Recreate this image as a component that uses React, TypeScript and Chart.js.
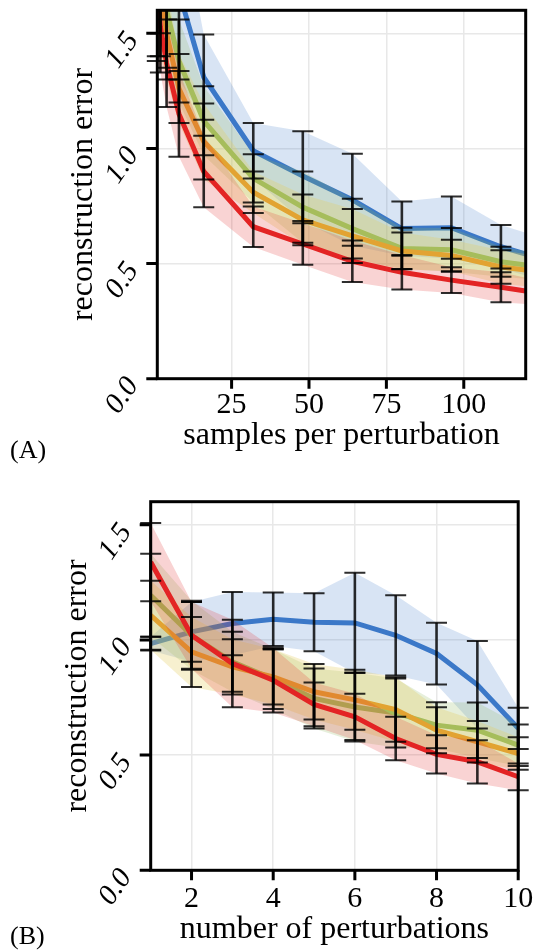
import React, { useEffect, useRef } from "react";
import { Chart, registerables } from "chart.js";

Chart.register(...registerables);

// ---------- Panel A: samples per perturbation ----------
const A_X = [1, 2, 4, 8, 16, 32, 48, 64, 80, 96, 112, 120];
const A_HAS_BAR = [1, 1, 1, 1, 1, 1, 1, 1, 1, 1, 1, 0];
const A_BLUE = [2.3, 2.1, 1.92, 1.68, 1.31, 0.99, 0.88, 0.777, 0.652, 0.656, 0.573, 0.541];
const A_BLUE_ERR = [0.35, 0.35, 0.3, 0.38, 0.185, 0.12, 0.195, 0.2, 0.118, 0.135, 0.094, 0.093];
const A_GREEN = [2.0, 1.8, 1.6, 1.38, 1.12, 0.87, 0.745, 0.652, 0.566, 0.56, 0.508, 0.494];
const A_GREEN_ERR = [0.3, 0.3, 0.25, 0.18, 0.15, 0.105, 0.155, 0.13, 0.09, 0.095, 0.065, 0.06];
const A_ORANGE = [1.85, 1.7, 1.5, 1.26, 1.03, 0.81, 0.69, 0.62, 0.555, 0.535, 0.485, 0.472];
const A_ORANGE_ERR = [0.45, 0.3, 0.2, 0.15, 0.165, 0.09, 0.11, 0.117, 0.08, 0.068, 0.073, 0.07];
const A_RED = [1.68, 1.53, 1.37, 1.15, 0.9, 0.66, 0.585, 0.51, 0.462, 0.428, 0.397, 0.381];
const A_RED_ERR = [0.3, 0.2, 0.19, 0.186, 0.155, 0.088, 0.09, 0.09, 0.075, 0.056, 0.065, 0.057];
const A_XTICKS = [25, 50, 75, 100];
const A_XLABELS = ["25", "50", "75", "100"];

// ---------- Panel B: number of perturbations ----------
const B_X = [1, 2, 3, 4, 5, 6, 7, 8, 9, 10];
const B_HAS_BAR = [1, 1, 1, 1, 1, 1, 1, 1, 1, 1];
const B_BLUE = [0.984, 1.035, 1.071, 1.09, 1.077, 1.074, 1.02, 0.941, 0.805, 0.616];
const B_BLUE_ERR = [0.03, 0.13, 0.137, 0.116, 0.126, 0.218, 0.174, 0.134, 0.19, 0.09];
const B_GREEN = [1.194, 1.02, 0.905, 0.83, 0.746, 0.709, 0.683, 0.63, 0.608, 0.543];
const B_GREEN_ERR = [0.18, 0.15, 0.13, 0.13, 0.13, 0.15, 0.15, 0.1, 0.12, 0.09];
const B_ORANGE = [1.107, 0.948, 0.883, 0.84, 0.775, 0.74, 0.698, 0.608, 0.558, 0.507];
const B_ORANGE_ERR = [0.15, 0.152, 0.12, 0.12, 0.12, 0.13, 0.14, 0.1, 0.09, 0.07];
const B_RED = [1.338, 1.02, 0.898, 0.825, 0.72, 0.666, 0.572, 0.503, 0.471, 0.406];
const B_RED_ERR = [0.17, 0.145, 0.19, 0.14, 0.095, 0.1, 0.094, 0.083, 0.094, 0.058];
const B_XTICKS = [2, 4, 6, 8, 10];
const B_XLABELS = ["2", "4", "6", "8", "10"];

// ---------- shared ----------
const Y_TICKS = [0, 0.5, 1.0, 1.5];
const Y_LABELS = ["0.0", "0.5", "1.0", "1.5"];
const Y_TITLE = "reconstruction error";

const BLUE = { line: "#3b78c8", band: "rgba(59,120,200,0.2)" };
const GREEN = { line: "#8bb65a", band: "rgba(139,182,90,0.22)" };
const ORANGE = { line: "#e2a332", band: "rgba(228,205,95,0.3)" };
const RED = { line: "#e32424", band: "rgba(227,36,36,0.2)" };

type Series = { mean: number[]; err: number[]; line: string; band: string };
type Panel = {
  x: number[];
  bar: number[];
  series: Series[];
  xMin: number;
  xMax: number;
  xTicks: number[];
  xLabels: string[];
  xTitle: string;
  tag: string;
  tickDy: number;
  titleDy: number;
  tagDy: number;
  pad: { left: number; right: number; top: number; bottom: number };
};

const PANEL_A: Panel = {
  x: A_X,
  bar: A_HAS_BAR,
  series: [
    { mean: A_BLUE, err: A_BLUE_ERR, ...BLUE },
    { mean: A_GREEN, err: A_GREEN_ERR, ...GREEN },
    { mean: A_ORANGE, err: A_ORANGE_ERR, ...ORANGE },
    { mean: A_RED, err: A_RED_ERR, ...RED },
  ],
  xMin: 1,
  xMax: 120,
  xTicks: A_XTICKS,
  xLabels: A_XLABELS,
  xTitle: "samples per perturbation",
  tag: "(A)",
  tickDy: 34.5,
  titleDy: 65.5,
  tagDy: 79,
  pad: { left: 157.3, right: 11.3, top: 10.3, bottom: 97.3 },
};

const PANEL_B: Panel = {
  x: B_X,
  bar: B_HAS_BAR,
  series: [
    { mean: B_BLUE, err: B_BLUE_ERR, ...BLUE },
    { mean: B_GREEN, err: B_GREEN_ERR, ...GREEN },
    { mean: B_ORANGE, err: B_ORANGE_ERR, ...ORANGE },
    { mean: B_RED, err: B_RED_ERR, ...RED },
  ],
  xMin: 1,
  xMax: 10,
  xTicks: B_XTICKS,
  xLabels: B_XLABELS,
  xTitle: "number of perturbations",
  tag: "(B)",
  tickDy: 37,
  titleDy: 68,
  tagDy: 74,
  pad: { left: 150.7, right: 18.8, top: 25.7, bottom: 81.7 },
};

const SERIF = "'Liberation Serif', 'Times New Roman', serif";

function buildConfig(p: Panel): any {
  const datasets: any[] = [];
  const n = p.series.length;
  p.series.forEach((s, k) => {
    const bandOrder = (n - k) * 2;
    const lineOrder = bandOrder - 1;
    datasets.push({
      data: p.x.map((x, i) => ({ x, y: s.mean[i] - s.err[i] })),
      borderWidth: 0,
      pointRadius: 0,
      fill: false,
      order: bandOrder,
      clip: 0,
    });
    datasets.push({
      data: p.x.map((x, i) => ({ x, y: s.mean[i] + s.err[i] })),
      borderWidth: 0,
      pointRadius: 0,
      fill: "-1",
      backgroundColor: s.band,
      order: bandOrder,
      clip: 0,
    });
    datasets.push({
      data: p.x.map((x, i) => ({ x, y: s.mean[i] })),
      borderColor: s.line,
      borderWidth: 5,
      pointRadius: 0,
      fill: false,
      tension: 0,
      order: lineOrder,
      clip: 0,
    });
  });

  const decor = {
    id: "decor",
    afterDatasetsDraw(chart: any) {
      const { ctx, chartArea: ca, scales } = chart;
      const xs = scales.x;
      const ys = scales.y;
      ctx.save();
      ctx.beginPath();
      ctx.rect(0, ca.top, chart.width, ca.bottom - ca.top);
      ctx.clip();
      ctx.strokeStyle = "rgba(0,0,0,0.82)";
      ctx.lineCap = "butt";
      p.series.forEach((s) => {
        p.x.forEach((xv, i) => {
          if (!p.bar[i]) return;
          const px = xs.getPixelForValue(xv);
          const yh = ys.getPixelForValue(s.mean[i] + s.err[i]);
          const yl = ys.getPixelForValue(s.mean[i] - s.err[i]);
          ctx.lineWidth = 2.6;
          ctx.beginPath();
          ctx.moveTo(px, yh);
          ctx.lineTo(px, yl);
          ctx.stroke();
          ctx.lineWidth = 2;
          ctx.beginPath();
          ctx.moveTo(px - 10.5, yh);
          ctx.lineTo(px + 10.5, yh);
          ctx.moveTo(px - 10.5, yl);
          ctx.lineTo(px + 10.5, yl);
          ctx.stroke();
        });
      });
      ctx.restore();
    },
    afterDraw(chart: any) {
      const { ctx, chartArea: ca, scales } = chart;
      const xs = scales.x;
      const ys = scales.y;
      ctx.save();
      ctx.strokeStyle = "#000";
      ctx.lineWidth = 3;
      ctx.strokeRect(ca.left, ca.top, ca.right - ca.left, ca.bottom - ca.top);
      // tick marks
      ctx.beginPath();
      Y_TICKS.forEach((v) => {
        const py = ys.getPixelForValue(v);
        ctx.moveTo(ca.left - 11, py);
        ctx.lineTo(ca.left, py);
      });
      p.xTicks.forEach((v) => {
        const px = xs.getPixelForValue(v);
        ctx.moveTo(px, ca.bottom);
        ctx.lineTo(px, ca.bottom + 10);
      });
      ctx.stroke();

      ctx.fillStyle = "#000";
      // x tick labels
      ctx.font = `30px ${SERIF}`;
      ctx.textAlign = "center";
      ctx.textBaseline = "alphabetic";
      p.xTicks.forEach((v, i) => {
        ctx.fillText(p.xLabels[i], xs.getPixelForValue(v), ca.bottom + p.tickDy);
      });
      // x title
      ctx.font = `32px ${SERIF}`;
      ctx.fillText(p.xTitle, (ca.left + ca.right) / 2, ca.bottom + p.titleDy);
      // panel tag
      ctx.font = `26px ${SERIF}`;
      ctx.textAlign = "left";
      ctx.fillText(p.tag, 10, ca.bottom + p.tagDy);
      // y title
      ctx.save();
      ctx.translate(ca.left - 65, (ca.top + ca.bottom) / 2);
      ctx.rotate(-Math.PI / 2);
      ctx.font = `32px ${SERIF}`;
      ctx.textAlign = "center";
      ctx.fillText(Y_TITLE, 0, 0);
      ctx.restore();
      // y tick labels (italic, rotated)
      Y_TICKS.forEach((v, i) => {
        const py = ys.getPixelForValue(v);
        ctx.save();
        ctx.translate(ca.left - 35, py + 17);
        ctx.rotate((-55 * Math.PI) / 180);
        ctx.font = `italic 29px ${SERIF}`;
        ctx.textAlign = "center";
        ctx.textBaseline = "middle";
        ctx.fillText(Y_LABELS[i], 0, 0);
        ctx.restore();
      });
      ctx.restore();
    },
  };

  return {
    type: "line",
    data: { datasets },
    options: {
      animation: false,
      responsive: false,
      devicePixelRatio: 1,
      events: [],
      layout: { padding: p.pad },
      plugins: {
        legend: { display: false },
        tooltip: { enabled: false },
        filler: { propagate: false },
      },
      scales: {
        x: {
          type: "linear",
          min: p.xMin,
          max: p.xMax,
          afterBuildTicks: (scale: any) => {
            scale.ticks = p.xTicks.map((v) => ({ value: v }));
          },
          ticks: { display: false },
          grid: { color: "#e8e8e8", lineWidth: 1.5, drawTicks: false },
          border: { display: false },
        },
        y: {
          type: "linear",
          min: 0,
          max: 1.6,
          afterBuildTicks: (scale: any) => {
            scale.ticks = Y_TICKS.map((v) => ({ value: v }));
          },
          ticks: { display: false },
          grid: { color: "#e8e8e8", lineWidth: 1.5, drawTicks: false },
          border: { display: false },
        },
      },
    },
    plugins: [decor],
  };
}

function PanelChart({ p, top }: { p: Panel; top: number }) {
  const ref = useRef<HTMLCanvasElement>(null);
  useEffect(() => {
    if (!ref.current) return;
    const chart = new Chart(ref.current, buildConfig(p));
    return () => chart.destroy();
  }, [p]);
  return (
    <canvas
      ref={ref}
      width={537}
      height={476}
      style={{ position: "absolute", left: 0, top, width: 537, height: 476, display: "block" }}
    />
  );
}

export default function App() {
  return (
    <div style={{ position: "absolute", left: 0, top: 0, width: 537, height: 952, background: "#fff" }}>
      <PanelChart p={PANEL_A} top={0} />
      <PanelChart p={PANEL_B} top={476} />
    </div>
  );
}
